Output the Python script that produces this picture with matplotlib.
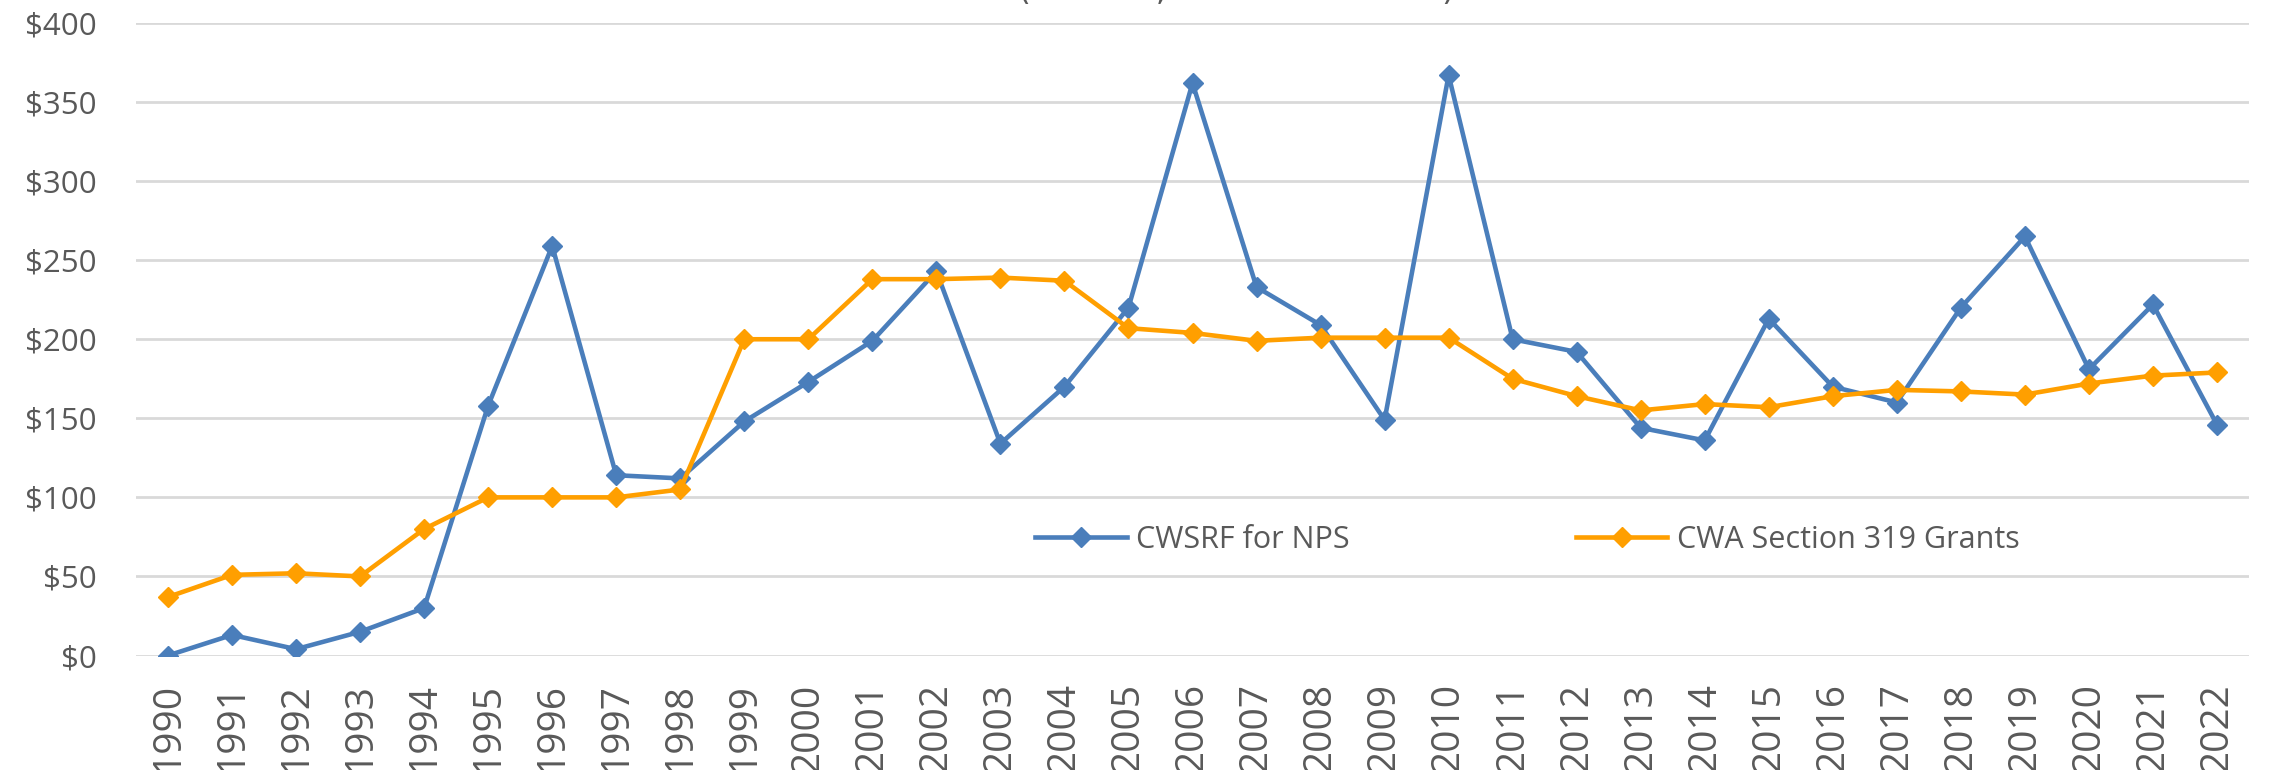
import matplotlib
matplotlib.use("Agg")
import matplotlib.pyplot as plt
from matplotlib.ticker import FuncFormatter

years = [str(y) for y in range(1990, 2023)]
cwsrf_nps = [0, 13, 4, 15, 30, 158, 259, 114, 112, 148, 173, 199, 243, 134, 170, 220,
             362, 233, 209, 149, 367, 200, 192, 144, 136, 213, 170, 160, 220, 265, 181, 222, 146]
cwa_319 = [37, 51, 52, 50, 80, 100, 100, 100, 105, 200, 200, 238, 238, 239, 237, 207,
           204, 199, 201, 201, 201, 175, 164, 155, 159, 157, 164, 168, 167, 165, 172, 177, 179]
series_names = ["CWSRF for NPS", "CWA Section 319 Grants"]
title_text = "(Millions, Nominal Dollars)"
yticks = [0, 50, 100, 150, 200, 250, 300, 350, 400]

plt.rcParams['font.family'] = ['Open Sans', 'DejaVu Sans']

fig = plt.figure(figsize=(22.69, 7.70), dpi=100)
ax = fig.add_axes([136/2269, 1-655.5/770, (2249-136)/2269, (655.5-23)/770])

x = list(range(len(years)))
blue = '#4A7EBB'
orange = '#FF9F00'
ax.plot(x, cwsrf_nps, color=blue, lw=3.3, marker='D', ms=10, label=series_names[0], zorder=3)
ax.plot(x, cwa_319, color=orange, lw=3.3, marker='D', ms=10, label=series_names[1], zorder=3)

ax.set_xlim(-0.5, len(years)-0.5)
ax.set_ylim(0, 400)
ax.set_yticks(yticks)
ax.yaxis.set_major_formatter(FuncFormatter(lambda v, p: f"${int(v)}"))
ax.set_xticks(x)
ax.set_xticklabels(years, rotation=90)
ax.grid(axis='y', color='#D9D9D9', lw=2)
ax.set_axisbelow(True)
for s in ax.spines.values():
    s.set_visible(False)
ax.tick_params(length=0, colors='#595959')
ax.tick_params(axis='y', pad=28, labelsize=22.5)
ax.tick_params(axis='x', pad=20, labelsize=28)

ax.legend(loc='center left', bbox_to_anchor=(0.4125, 0.183), ncol=2, frameon=False,
          fontsize=22, handlelength=3.0, columnspacing=7.4, handletextpad=0.3,
          labelcolor='#595959')

fig.text(0.545, 1.0, title_text, ha='center', va='baseline', fontsize=24, color='#595959',
         family='DejaVu Sans')

fig.savefig("out.png", dpi=100)
